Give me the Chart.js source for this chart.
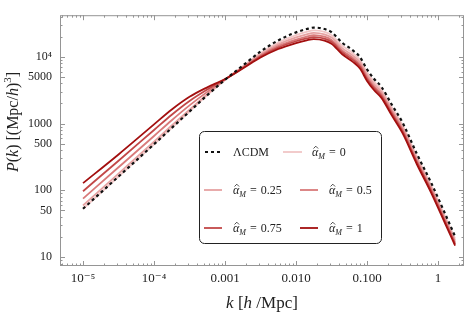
<!DOCTYPE html>
<html>
<head>
<meta charset="utf-8">
<script src="https://cdn.jsdelivr.net/npm/chart.js@4/dist/chart.umd.min.js"></script>
<style>
  html, body { margin: 0; padding: 0; background: #fff; }
</style>
</head>
<body>
<canvas id="pkChart" width="468" height="316"></canvas>
<script>
// wavenumbers k [h/Mpc]
const kValues = [1e-5, 3.162e-5, 1e-4, 1.778e-4, 3.162e-4, 5.623e-4, 1e-3, 1.778e-3, 3.162e-3, 5.623e-3,
  0.01, 0.01413, 0.01778, 0.02512, 0.03162, 0.04467, 0.0631, 0.07943, 0.1, 0.1259,
  0.1585, 0.2239, 0.3162, 0.5012, 0.7943, 1.259, 1.738];

// P(k)
const pLCDM = [53, 161, 490, 861, 1514, 2661, 4519, 7362, 11940, 17580, 23170, 26000, 27350, 26000, 23280,
  16220, 12470, 9908, 6457, 4645, 3573, 1905, 1033, 354, 131.8, 44.4, 20.4];
const pAlpha0 = [53, 161, 490, 861, 1514, 2661, 4519, 7181, 11340, 16320, 21130, 23600, 24770, 23550, 21090,
  14690, 11300, 8974, 5848, 4215, 3249, 1737, 942.8, 323.8, 120.9, 40.8, 18.9];
const pAlpha025 = [59.3, 178.2, 537, 937.6, 1619, 2760, 4534, 7031, 10850, 15310, 19530, 21710, 22750, 21630, 19360,
  13490, 10380, 8241, 5370, 3878, 2994, 1603, 871.8, 299.9, 112.3, 38.0, 17.6];
const pAlpha05 = [75.3, 221.2, 651.6, 1122, 1871, 2979, 4567, 6887, 10400, 14410, 18110, 20060, 20990, 19950, 17860,
  12450, 9572, 7603, 4955, 3584, 2771, 1486, 809.4, 279, 104.7, 35.5, 16.5];
const pAlpha075 = [97.0, 277.7, 799.8, 1356, 2177, 3229, 4602, 6777, 10060, 13730, 17060, 18830, 19680, 18710, 16750,
  11670, 8974, 7129, 4645, 3365, 2604, 1398, 762.7, 263.3, 99.0, 33.6, 15.7];
const pAlpha1 = [128, 344.6, 971, 1622, 2513, 3486, 4634, 6668, 9719, 13060, 16030, 17640, 18410, 17500, 15670,
  10910, 8395, 6668, 4345, 3151, 2443, 1313, 717.4, 247.9, 93.4, 31.8, 14.9];

const seriesLabels = ['ΛCDM', '0', '0.25', '0.5', '0.75', '1'];

const xTicks = [1e-5, 1e-4, 0.001, 0.01, 0.1, 1];
const xTickLabels = ['10⁻⁵', '10⁻⁴', '0.001', '0.010', '0.100', '1'];
const yTicks = [10, 50, 100, 500, 1000, 5000, 10000];
const yTickLabels = ['10', '50', '100', '500', '1000', '5000', '10⁴'];

const SERIF = '"Liberation Serif", "DejaVu Serif", serif';
const frameColor = '#959595';
const textColor = '#222';

function toPoints(arr) {
    return kValues.map((k, i) => ({ x: k, y: arr[i] }));
}

function makeSet(label, arr, color, order, dash) {
    return {
        label: label,
        data: toPoints(arr),
        borderColor: color,
        borderWidth: dash ? 2.2 : 1.8,
        borderDash: dash || [],
        cubicInterpolationMode: 'monotone',
        pointRadius: 0,
        fill: false,
        order: order
    };
}

// draws a list of [text, font, dy] runs centred on cx
function drawRuns(ctx, runs, cx, cy) {
    let total = 0;
    runs.forEach(r => { ctx.font = r[1]; total += ctx.measureText(r[0]).width; });
    let x = cx - total / 2;
    runs.forEach(r => {
        ctx.font = r[1];
        ctx.fillText(r[0], x, cy + (r[2] || 0));
        x += ctx.measureText(r[0]).width;
    });
}

// frame with inward ticks on all four sides
const framePlugin = {
    id: 'frame',
    beforeDatasetsDraw(chart) {
        const ctx = chart.ctx;
        const a = chart.chartArea;
        const xs = chart.scales.x, ys = chart.scales.y;
        ctx.save();
        ctx.strokeStyle = frameColor;
        ctx.lineWidth = 1;
        ctx.strokeRect(a.left + 0.5, a.top + 0.5, a.right - a.left - 1, a.bottom - a.top - 1);

        ctx.beginPath();
        for (let e = -6; e <= 0; e++) {
            for (let m = 1; m <= 9; m++) {
                const v = m * Math.pow(10, e);
                if (v < xs.min || v > xs.max) continue;
                const px = Math.round(xs.getPixelForValue(v)) + 0.5;
                const len = m === 1 ? 5 : 2.5;
                ctx.moveTo(px, a.bottom); ctx.lineTo(px, a.bottom - len);
                ctx.moveTo(px, a.top); ctx.lineTo(px, a.top + len);
            }
        }
        for (let e = 0; e <= 4; e++) {
            for (let m = 1; m <= 9; m++) {
                const v = m * Math.pow(10, e);
                if (v < ys.min || v > ys.max) continue;
                const py = Math.round(ys.getPixelForValue(v)) + 0.5;
                const len = yTicks.includes(v) ? 5 : 2.5;
                ctx.moveTo(a.left, py); ctx.lineTo(a.left + len, py);
                ctx.moveTo(a.right, py); ctx.lineTo(a.right - len, py);
            }
        }
        ctx.stroke();
        ctx.restore();
    },
    afterDraw(chart) {
        const ctx = chart.ctx;
        ctx.save();
        ctx.fillStyle = textColor;
        ctx.textBaseline = 'alphabetic';
        // x axis title
        drawRuns(ctx, [
            ['k', 'italic 17px ' + SERIF],
            [' [', '17px ' + SERIF],
            ['h', 'italic 17px ' + SERIF],
            [' /Mpc]', '17px ' + SERIF]
        ], 262, 308);
        // y axis title
        ctx.translate(18, 122);
        ctx.rotate(-Math.PI / 2);
        drawRuns(ctx, [
            ['P', 'italic 16px ' + SERIF],
            ['(', '16px ' + SERIF],
            ['k', 'italic 16px ' + SERIF],
            [') [(Mpc/', '16px ' + SERIF],
            ['h', 'italic 16px ' + SERIF],
            [')', '16px ' + SERIF],
            ['3', '11px ' + SERIF, -7],
            [']', '16px ' + SERIF]
        ], 0, 0);
        ctx.restore();
        drawLegend(chart);
    }
};

// legend slots: [sample x0, sample x1, text x, row y]
const legendSlots = [
    [205, 222, 233, 152],
    [283, 302, 312, 152],
    [204, 222, 233, 190],
    [300, 318, 329, 190],
    [204, 222, 233, 228],
    [300, 318, 329, 228]
];

function drawLegend(chart) {
    const ctx = chart.ctx;
    ctx.save();
    ctx.beginPath();
    ctx.roundRect(199.5, 131.5, 182, 112, 5);
    ctx.fillStyle = '#fff';
    ctx.fill();
    ctx.strokeStyle = '#222';
    ctx.lineWidth = 1;
    ctx.stroke();

    chart.data.datasets.forEach((ds, i) => {
        const s = legendSlots[i];
        ctx.beginPath();
        ctx.strokeStyle = ds.borderColor;
        ctx.lineWidth = ds.borderWidth;
        ctx.setLineDash(ds.borderDash);
        ctx.moveTo(s[0], s[3]);
        ctx.lineTo(s[1], s[3]);
        ctx.stroke();
        ctx.setLineDash([]);

        ctx.fillStyle = textColor;
        ctx.textBaseline = 'alphabetic';
        const base = s[3] + 4;
        if (i === 0) {
            ctx.font = '12px ' + SERIF;
            ctx.fillText(ds.label, s[2], base);
            return;
        }
        let x = s[2];
        ctx.font = 'italic 12px ' + SERIF;
        ctx.fillText('α', x, base);
        const wa = ctx.measureText('α').width;
        // hat over alpha
        ctx.beginPath();
        ctx.strokeStyle = textColor;
        ctx.lineWidth = 0.8;
        ctx.moveTo(x + 1.5, base - 7.5);
        ctx.lineTo(x + 3.8, base - 9.8);
        ctx.lineTo(x + 6.1, base - 7.5);
        ctx.stroke();
        x += wa;
        ctx.font = 'italic 8px ' + SERIF;
        ctx.fillText('M', x, base + 3);
        x += ctx.measureText('M').width + 4;
        ctx.font = '12px ' + SERIF;
        ctx.fillText('=', x, base);
        x += ctx.measureText('=').width + 4;
        ctx.fillText(ds.label, x, base);
    });
    ctx.restore();
}

new Chart(document.getElementById('pkChart'), {
    type: 'line',
    data: {
        datasets: [
            makeSet(seriesLabels[0], pLCDM, '#111111', 0, [3, 3]),
            makeSet(seriesLabels[1], pAlpha0, '#f1c6c6', 5),
            makeSet(seriesLabels[2], pAlpha025, '#e6a2a2', 4),
            makeSet(seriesLabels[3], pAlpha05, '#d97a7a', 3),
            makeSet(seriesLabels[4], pAlpha075, '#c24848', 2),
            makeSet(seriesLabels[5], pAlpha1, '#a30f0f', 1)
        ]
    },
    options: {
        responsive: false,
        animation: false,
        layout: { padding: { top: 3, right: 4, left: 0, bottom: 0 } },
        plugins: {
            legend: { display: false },
            tooltip: { enabled: false }
        },
        scales: {
            x: {
                type: 'logarithmic',
                min: 4.74e-6,
                max: 2.32,
                grid: { display: false, drawTicks: false },
                border: { display: false },
                afterBuildTicks: s => { s.ticks = xTicks.map(v => ({ value: v })); },
                afterFit: s => { s.height = 50; },
                ticks: {
                    autoSkip: false,
                    maxRotation: 0,
                    padding: 5,
                    color: textColor,
                    font: { family: SERIF, size: 13 },
                    callback: (v, i) => xTickLabels[i]
                }
            },
            y: {
                type: 'logarithmic',
                min: 7.36,
                max: 41900,
                grid: { display: false, drawTicks: false },
                border: { display: false },
                afterBuildTicks: s => { s.ticks = yTicks.map(v => ({ value: v })); },
                afterFit: s => { s.width = 60; },
                ticks: {
                    autoSkip: false,
                    padding: 8,
                    color: textColor,
                    font: { family: SERIF, size: 12 },
                    callback: (v, i) => yTickLabels[i]
                }
            }
        }
    },
    plugins: [framePlugin]
});
</script>
</body>
</html>
